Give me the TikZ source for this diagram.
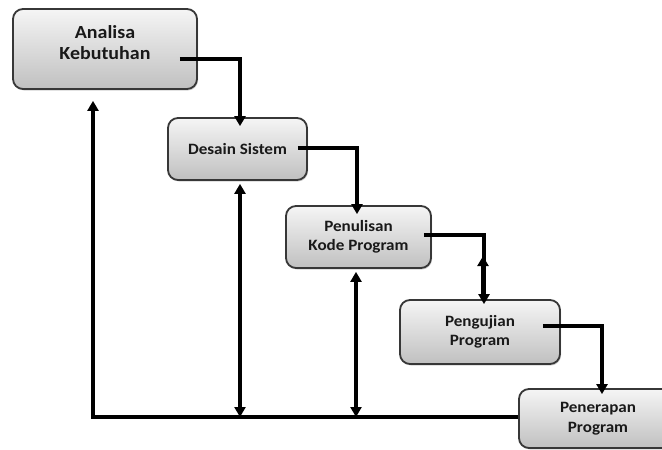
\documentclass[tikz,border=0pt]{standalone}
\usepackage{fontspec}
\setmainfont{Carlito}[FakeStretch=1.08]
\definecolor{wfborder}{RGB}{55,55,55}
\definecolor{wftop}{RGB}{245,245,245}
\definecolor{wfbottom}{RGB}{192,192,192}
\definecolor{wftext}{RGB}{25,25,25}
\usetikzlibrary{arrows.meta,positioning,shadows}

\begin{document}
\begin{tikzpicture}[x=1pt, y=-1pt,
  phase/.style={
    rectangle, rounded corners=10pt,
    draw=wfborder, line width=1.8pt,
    top color=wftop, bottom color=wfbottom,
    drop shadow={shadow xshift=1pt, shadow yshift=-1.5pt, opacity=0.35},
    font=\fontsize{15.8}{19.5}\selectfont\bfseries,
    align=center, text=wftext, inner sep=0pt
  },
  flow/.style={-{Triangle[length=10pt,width=11pt]}, line width=3.6pt, black},
  twoway/.style={{Triangle[length=10pt,width=11pt]}-{Triangle[length=10pt,width=11pt]}, line width=3.6pt, black}
]
\clip (0,0) rectangle (662,450);
\fill[white] (0,0) rectangle (662,450);

\node[phase, minimum width=184pt, minimum height=80pt, text depth=12pt,
  font=\fontsize{18.5}{21}\selectfont\bfseries] (ana) at (105,49) {Analisa\\Kebutuhan};
\node[phase, minimum width=139pt, minimum height=62pt] (des) at (237.5,149) {Desain Sistem};
\node[phase, minimum width=145pt, minimum height=62pt] (pen) at (358.5,237) {Penulisan\\Kode Program};
\node[phase, minimum width=160pt, minimum height=64pt] (uji) at (480,332) {Pengujian\\Program};
\node[phase, minimum width=158pt, minimum height=59pt] (ter) at (598,418.5) {Penerapan\\Program};

\draw[flow] ([xshift=-18pt,yshift=-10pt]ana.east) -| ([xshift=2.5pt,yshift=-9pt]des.north);
\draw[flow] ([xshift=-10pt,yshift=1pt]des.east) -| ([xshift=-1.5pt,yshift=-9pt]pen.north);
\draw[flow] ([xshift=-8pt,yshift=2pt]pen.east) -| ([xshift=4pt,yshift=-5pt]uji.north);
\coordinate (chk) at ([xshift=3pt,yshift=43pt]uji.north);
\draw[flow] ([xshift=3pt]uji.north) -- (chk);
\draw[flow] ([xshift=-18pt,yshift=6pt]uji.east) -| ([xshift=4pt,yshift=-6pt]ter.north);

\draw[flow] ([yshift=1.5pt]ter.west) -| ([xshift=-12pt,yshift=-11pt]ana.south);
\draw[twoway] ([xshift=2.5pt,yshift=-3pt]des.south) -- ([xshift=2.5pt,yshift=1.5pt]des.south |- ter.west);
\draw[twoway] ([xshift=-2.5pt,yshift=-3pt]pen.south) -- ([xshift=-2.5pt,yshift=1.5pt]pen.south |- ter.west);
\end{tikzpicture}
\end{document}
